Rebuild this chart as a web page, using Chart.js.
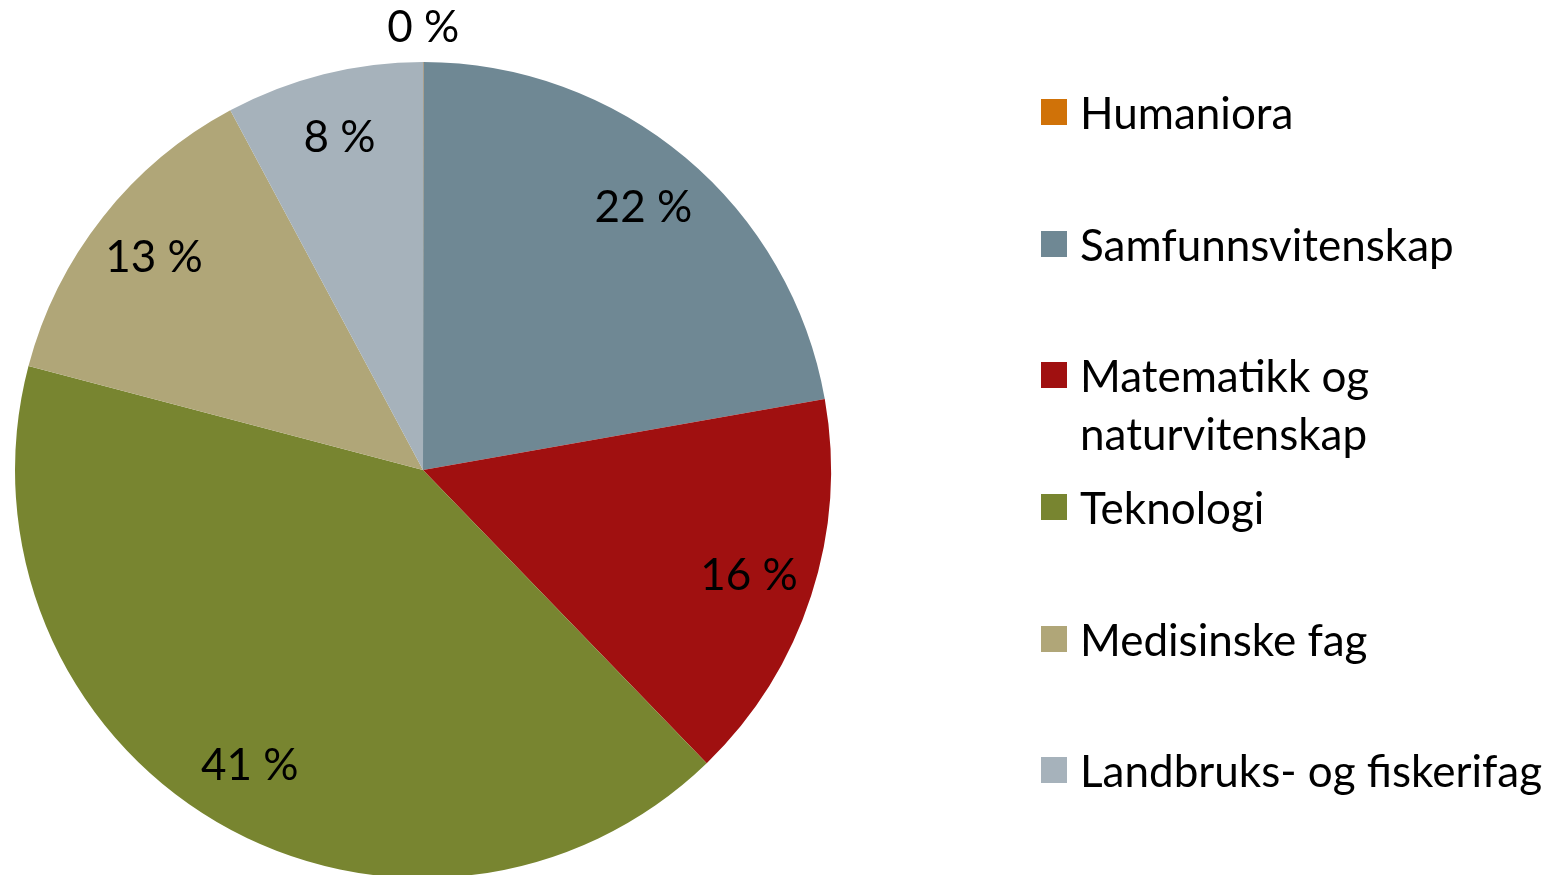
<!DOCTYPE html>
<html>
<head>
<meta charset="utf-8">
<script src="https://cdn.jsdelivr.net/npm/chart.js@4"></script>
<style>
  html, body { margin: 0; padding: 0; background: #fff; overflow: hidden; }
  #wrap { position: relative; width: 1560px; height: 875px; }
  #pie { position: absolute; left: 0; top: 0; }
  #legend { position: absolute; left: 1041px; top: 83px; margin: 0; padding: 0; list-style: none;
            font-family: Lato, sans-serif; font-size: 44px; color: #000; }
  #legend li { position: relative; height: 131.7px; padding-left: 39px; line-height: 58px; }
  #legend li span.box { position: absolute; left: 0; top: 16px; width: 26px; height: 26px; }
</style>
</head>
<body>
<div id="wrap">
  <canvas id="pie" width="1560" height="900"></canvas>
  <ul id="legend"></ul>
</div>
<script>
var categories = ["Humaniora", "Samfunnsvitenskap", "Matematikk og naturvitenskap", "Teknologi", "Medisinske fag", "Landbruks- og fiskerifag"];
var legendLines = [["Humaniora"], ["Samfunnsvitenskap"], ["Matematikk og", "naturvitenskap"], ["Teknologi"], ["Medisinske fag"], ["Landbruks- og fiskerifag"]];
var shares = [0.02, 22.2, 15.55, 41.35, 13.07, 7.83];
var colors = ["#D07208", "#6F8894", "#A01010", "#788530", "#B0A678", "#A6B2BB"];

// percentage labels drawn on the slices
var pieLabels = {
  id: "pieLabels",
  afterDatasetsDraw: function (chart) {
    var ctx = chart.ctx;
    var meta = chart.getDatasetMeta(0);
    var total = shares.reduce(function (a, b) { return a + b; }, 0);
    ctx.save();
    ctx.font = "44px Lato, sans-serif";
    ctx.fillStyle = "#000";
    ctx.textAlign = "center";
    ctx.textBaseline = "middle";
    meta.data.forEach(function (arc, i) {
      var pct = shares[i] / total * 100;
      var mid = (arc.startAngle + arc.endAngle) / 2;
      var r = pct < 1 ? arc.outerRadius + 34 : arc.outerRadius * 0.84;
      var x = arc.x + Math.cos(mid) * r;
      var y = arc.y + Math.sin(mid) * r;
      ctx.fillText(Math.round(pct) + " %", x, y);
    });
    ctx.restore();
  }
};

var ctx = document.getElementById("pie").getContext("2d");
var myChart = new Chart(ctx, {
  type: "pie",
  data: {
    labels: categories,
    datasets: [{
      data: shares,
      backgroundColor: colors,
      borderWidth: 0
    }]
  },
  options: {
    responsive: false,
    animation: false,
    layout: { padding: { left: 15, top: 62, right: 729, bottom: 22 } },
    plugins: {
      legend: { display: false },
      tooltip: { enabled: false }
    }
  },
  plugins: [pieLabels]
});

var legend = document.getElementById("legend");
categories.forEach(function (name, i) {
  var li = document.createElement("li");
  var box = document.createElement("span");
  box.className = "box";
  box.style.background = colors[i];
  li.appendChild(box);
  legendLines[i].forEach(function (line, j) {
    if (j > 0) li.appendChild(document.createElement("br"));
    li.appendChild(document.createTextNode(line));
  });
  legend.appendChild(li);
});
</script>
</body>
</html>
